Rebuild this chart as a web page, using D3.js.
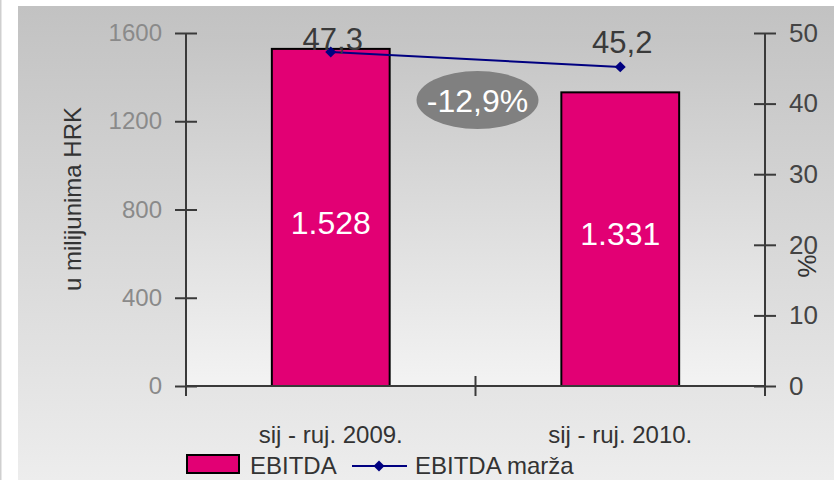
<!DOCTYPE html>
<html>
<head>
<meta charset="utf-8">
<script src="https://cdn.jsdelivr.net/npm/d3@7"></script>
<style>
  html, body { margin: 0; padding: 0; background: #ffffff; }
  svg { display: block; font-family: "Liberation Sans", Arial, Helvetica, sans-serif; }
</style>
</head>
<body>
<svg id="chart" width="834" height="480"></svg>
<script>
// ---- data ----
const categories = ["sij - ruj. 2009.", "sij - ruj. 2010."];
const ebitda = [1528, 1331];
const ebitdaLabels = ["1.528", "1.331"];
const marza = [47.3, 45.2];
const marzaLabels = ["47,3", "45,2"];
const leftTicks = [0, 400, 800, 1200, 1600];
const rightTicks = [0, 10, 20, 30, 40, 50];
const changeLabel = "-12,9%";
const seriesNames = ["EBITDA", "EBITDA marža"];
const leftTitle = "u milijunima HRK";
const rightTitle = "%";

// ---- layout ----
const W = 834, H = 480;
const plot = { left: 186, right: 765, top: 33, bottom: 386 };
const magenta = "#e20074";
const navy = "#000080";
const axisColor = "#3a3a3a";

const svg = d3.select("#chart");
const defs = svg.append("defs");
const g1 = defs.append("linearGradient").attr("id", "bgGrad").attr("x1", 0).attr("y1", 0).attr("x2", 0).attr("y2", 1);
g1.append("stop").attr("offset", "0%").attr("stop-color", "#c2c2c2");
g1.append("stop").attr("offset", "100%").attr("stop-color", "#ededed");
const g2 = defs.append("linearGradient").attr("id", "plotGrad").attr("x1", 0).attr("y1", 0).attr("x2", 0).attr("y2", 1);
g2.append("stop").attr("offset", "0%").attr("stop-color", "#c4c4c4");
g2.append("stop").attr("offset", "100%").attr("stop-color", "#f3f3f3");

// left thin border line
svg.append("rect").attr("x", 0).attr("y", 0).attr("width", 1.5).attr("height", H).attr("fill", "#cfcfcf");
// panel
svg.append("rect").attr("x", 18).attr("y", 6).attr("width", W - 18).attr("height", H - 6).attr("fill", "url(#bgGrad)");
// plot area
svg.append("rect").attr("x", plot.left).attr("y", plot.top)
  .attr("width", plot.right - plot.left).attr("height", plot.bottom - plot.top)
  .attr("fill", "url(#plotGrad)");

// ---- scales ----
const x = d3.scaleBand().domain(categories).range([plot.left, plot.right]).paddingInner(0).paddingOuter(0);
const yL = d3.scaleLinear().domain([0, 1600]).range([plot.bottom, plot.top]);
const yR = d3.scaleLinear().domain([0, 50]).range([plot.bottom, plot.top]);
const barW = x.bandwidth() * 0.407;
const cx = c => x(c) + x.bandwidth() / 2;

// ---- bars ----
svg.append("g").selectAll("rect").data(categories).join("rect")
  .attr("x", c => cx(c) - barW / 2)
  .attr("y", (c, i) => yL(ebitda[i]))
  .attr("width", barW)
  .attr("height", (c, i) => yL(0) - yL(ebitda[i]))
  .attr("fill", magenta)
  .attr("stroke", "#000").attr("stroke-width", 2);

// bar labels (blend of bar middle and a common middle level)
const commonMid = yL(d3.mean(ebitda) / 2);
svg.append("g").selectAll("text").data(categories).join("text")
  .attr("x", c => cx(c))
  .attr("y", (c, i) => ((yL(ebitda[i]) + yL(0)) / 2 + commonMid) / 2)
  .attr("dy", "0.36em")
  .attr("text-anchor", "middle")
  .attr("fill", "#fff").attr("font-size", 32)
  .text((c, i) => ebitdaLabels[i]);

// ---- axes ----
const axL = svg.append("g").attr("transform", `translate(${plot.left},0)`)
  .call(d3.axisLeft(yL).tickValues(leftTicks).tickSize(10).tickFormat(d3.format("d")));
axL.select(".domain").attr("stroke", axisColor).attr("stroke-width", 2).attr("d", `M0,${plot.top}V${plot.bottom}`);
axL.selectAll(".tick line").attr("stroke", axisColor).attr("stroke-width", 2).attr("x1", -11).attr("x2", 11);
axL.selectAll(".tick text").attr("x", -24).attr("fill", "#8a8a8a").attr("font-size", 24)
  .attr("font-family", "'Liberation Sans', Arial, sans-serif");

const axR = svg.append("g").attr("transform", `translate(${plot.right},0)`)
  .call(d3.axisRight(yR).tickValues(rightTicks).tickSize(10));
axR.select(".domain").attr("stroke", axisColor).attr("stroke-width", 2).attr("d", `M0,${plot.top}V${plot.bottom}`);
axR.selectAll(".tick line").attr("stroke", axisColor).attr("stroke-width", 2).attr("x1", -11).attr("x2", 11);
axR.selectAll(".tick text").attr("x", 24).attr("fill", "#444").attr("font-size", 26)
  .attr("font-family", "'Liberation Sans', Arial, sans-serif");

// x axis (ticks at category boundaries)
const xb = svg.append("g");
xb.append("line").attr("x1", plot.left).attr("x2", plot.right).attr("y1", plot.bottom).attr("y2", plot.bottom)
  .attr("stroke", axisColor).attr("stroke-width", 2);
const boundaries = categories.map(c => x(c)).concat([x(categories[categories.length - 1]) + x.bandwidth()]);
xb.selectAll("line.tk").data(boundaries).join("line").attr("class", "tk")
  .attr("x1", d => d).attr("x2", d => d)
  .attr("y1", plot.bottom - 10).attr("y2", plot.bottom + 10)
  .attr("stroke", axisColor).attr("stroke-width", 2);
xb.selectAll("text").data(categories).join("text")
  .attr("x", c => cx(c)).attr("y", 443)
  .attr("text-anchor", "middle").attr("fill", "#333").attr("font-size", 24)
  .text(c => c);

// axis titles
svg.append("text").attr("transform", `translate(81,199) rotate(-90)`)
  .attr("text-anchor", "middle").attr("fill", "#333").attr("font-size", 24).text(leftTitle);
svg.append("text").attr("transform", `translate(798,266) rotate(90)`)
  .attr("text-anchor", "middle").attr("fill", "#333").attr("font-size", 26).text(rightTitle);

// ---- line series ----
const line = d3.line().x((d, i) => cx(categories[i])).y(d => yR(d));
svg.append("path").datum(marza).attr("d", line).attr("fill", "none").attr("stroke", navy).attr("stroke-width", 2);
svg.append("g").selectAll("path").data(marza).join("path")
  .attr("d", d3.symbol().type(d3.symbolSquare).size(60))
  .attr("transform", (d, i) => `translate(${cx(categories[i])},${yR(d)}) rotate(45)`)
  .attr("fill", navy);
svg.append("g").selectAll("text").data(marza).join("text")
  .attr("x", (d, i) => cx(categories[i]) + 2)
  .attr("y", d => Math.max(yR(d) - 14, plot.top + 17))
  .attr("text-anchor", "middle").attr("fill", "#3a3a3a").attr("font-size", 31)
  .text((d, i) => marzaLabels[i]);

// ---- change bubble ----
const bx = x(categories[1]), by = 100;
svg.append("ellipse").attr("cx", bx + 2).attr("cy", by).attr("rx", 61).attr("ry", 29).attr("fill", "#808080");
svg.append("text").attr("x", bx + 2).attr("y", by).attr("dy", "0.36em")
  .attr("text-anchor", "middle").attr("fill", "#fff").attr("font-size", 32).text(changeLabel);

// ---- legend ----
const lg = svg.append("g");
lg.append("rect").attr("x", 187).attr("y", 455).attr("width", 52).attr("height", 18)
  .attr("fill", magenta).attr("stroke", "#000").attr("stroke-width", 2);
lg.append("text").attr("x", 250).attr("y", 474).attr("fill", "#333").attr("font-size", 24).text(seriesNames[0]);
lg.append("line").attr("x1", 352).attr("x2", 407).attr("y1", 466).attr("y2", 466).attr("stroke", navy).attr("stroke-width", 2);
lg.append("path").attr("d", d3.symbol().type(d3.symbolSquare).size(60)).attr("transform", "translate(379,466) rotate(45)").attr("fill", navy);
lg.append("text").attr("x", 415).attr("y", 474).attr("fill", "#333").attr("font-size", 24).text(seriesNames[1]);
</script>
</body>
</html>
